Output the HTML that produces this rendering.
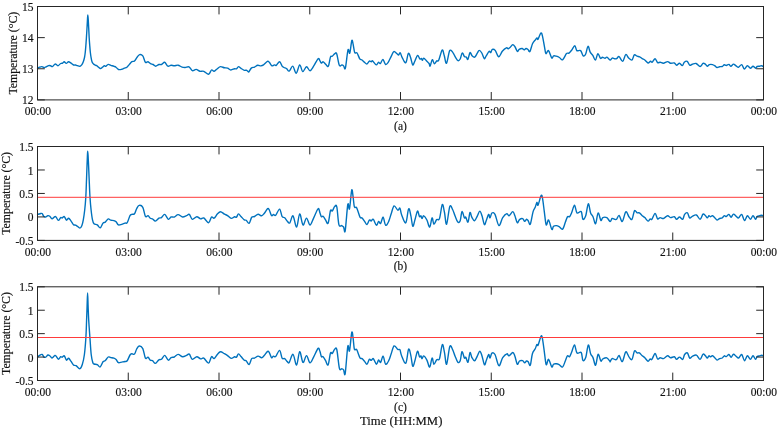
<!DOCTYPE html>
<html><head><meta charset="utf-8"><style>
html,body{margin:0;padding:0;background:#fff;}
svg{display:block;}
.t{font-family:"Liberation Serif",serif;font-size:11.5px;fill:#111;stroke:#111;stroke-width:0.15px;}
.yl{font-family:"Liberation Serif",serif;font-size:11.8px;fill:#111;stroke:#111;stroke-width:0.15px;}
.xl{font-family:"Liberation Serif",serif;font-size:12.7px;fill:#111;stroke:#111;stroke-width:0.15px;}
</style></head><body>
<div style="will-change:transform;width:779px;height:428px"><svg width="779" height="428" viewBox="0 0 779 428">
<rect width="779" height="428" fill="#fff"/>
<path d="M37.60,68.20 C37.93,68.03 38.88,67.47 39.60,67.20 C40.32,66.93 41.15,66.53 41.90,66.60 C42.65,66.67 43.42,67.53 44.10,67.60 C44.78,67.67 45.25,67.32 46.00,67.00 C46.75,66.68 47.85,65.92 48.60,65.70 C49.35,65.48 49.87,65.55 50.50,65.70 C51.13,65.85 51.65,66.87 52.40,66.60 C53.15,66.33 54.25,64.37 55.00,64.10 C55.75,63.83 56.37,64.73 56.90,65.00 C57.43,65.27 57.57,65.95 58.20,65.70 C58.83,65.45 59.95,63.93 60.70,63.50 C61.45,63.07 62.12,63.38 62.70,63.10 C63.28,62.82 63.60,61.75 64.20,61.80 C64.80,61.85 65.58,63.40 66.30,63.40 C67.02,63.40 67.72,61.85 68.50,61.80 C69.28,61.75 70.15,62.57 71.00,63.10 C71.85,63.63 72.85,64.68 73.60,65.00 C74.35,65.32 74.87,64.88 75.50,65.00 C76.13,65.12 76.65,65.48 77.40,65.70 C78.15,65.92 79.25,66.48 80.00,66.30 C80.75,66.12 81.35,65.37 81.90,64.60 C82.45,63.83 82.87,62.88 83.30,61.70 C83.73,60.52 84.17,59.12 84.50,57.50 C84.83,55.88 85.07,54.08 85.30,52.00 C85.53,49.92 85.72,47.33 85.90,45.00 C86.08,42.67 86.22,40.83 86.40,38.00 C86.58,35.17 86.82,31.17 87.00,28.00 C87.18,24.83 87.37,21.17 87.50,19.00 C87.63,16.83 87.68,15.00 87.80,15.00 C87.92,15.00 88.05,16.83 88.20,19.00 C88.35,21.17 88.53,24.83 88.70,28.00 C88.87,31.17 89.03,35.17 89.20,38.00 C89.37,40.83 89.52,42.67 89.70,45.00 C89.88,47.33 90.08,50.00 90.30,52.00 C90.52,54.00 90.72,55.38 91.00,57.00 C91.28,58.62 91.58,60.53 92.00,61.70 C92.42,62.87 93.00,63.45 93.50,64.00 C94.00,64.55 94.47,64.72 95.00,65.00 C95.53,65.28 95.83,65.12 96.70,65.70 C97.57,66.28 99.23,68.25 100.20,68.50 C101.17,68.75 101.80,67.67 102.50,67.20 C103.20,66.73 103.87,65.85 104.40,65.70 C104.93,65.55 105.07,66.52 105.70,66.30 C106.33,66.08 107.35,64.57 108.20,64.40 C109.05,64.23 109.83,64.98 110.80,65.30 C111.77,65.62 113.13,65.98 114.00,66.30 C114.87,66.62 115.25,66.67 116.00,67.20 C116.75,67.73 117.55,69.15 118.50,69.50 C119.45,69.85 120.73,69.52 121.70,69.30 C122.67,69.08 123.43,68.55 124.30,68.20 C125.17,67.85 126.05,67.83 126.90,67.20 C127.75,66.57 128.57,65.32 129.40,64.40 C130.23,63.48 131.05,62.27 131.90,61.70 C132.75,61.13 133.63,61.75 134.50,61.00 C135.37,60.25 136.25,58.27 137.10,57.20 C137.95,56.13 138.65,54.82 139.60,54.60 C140.55,54.38 141.83,54.62 142.80,55.90 C143.77,57.18 144.53,61.33 145.40,62.30 C146.27,63.27 147.15,61.48 148.00,61.70 C148.85,61.92 149.65,63.13 150.50,63.60 C151.35,64.07 152.23,64.07 153.10,64.50 C153.97,64.93 154.73,66.20 155.70,66.20 C156.67,66.20 157.93,64.78 158.90,64.50 C159.87,64.22 160.53,64.87 161.50,64.50 C162.47,64.13 163.63,62.02 164.70,62.30 C165.77,62.58 166.83,65.72 167.90,66.20 C168.97,66.68 170.03,65.27 171.10,65.20 C172.17,65.13 173.13,65.80 174.30,65.80 C175.47,65.80 176.82,64.98 178.10,65.20 C179.38,65.42 180.82,66.72 182.00,67.10 C183.18,67.48 184.03,67.55 185.20,67.50 C186.37,67.45 187.82,66.27 189.00,66.80 C190.18,67.33 191.12,70.27 192.30,70.70 C193.48,71.13 194.82,69.30 196.10,69.40 C197.38,69.50 198.72,70.98 200.00,71.30 C201.28,71.62 202.37,70.80 203.80,71.30 C205.23,71.80 207.32,74.52 208.60,74.30 C209.88,74.08 210.58,70.50 211.50,70.00 C212.42,69.50 213.13,71.52 214.10,71.30 C215.07,71.08 216.23,69.48 217.30,68.70 C218.37,67.92 219.32,66.75 220.50,66.60 C221.68,66.45 223.22,67.55 224.40,67.80 C225.58,68.05 226.53,67.73 227.60,68.10 C228.67,68.47 229.63,69.90 230.80,70.00 C231.97,70.10 233.65,68.90 234.60,68.70 C235.55,68.50 235.85,69.15 236.50,68.80 C237.15,68.45 237.75,66.67 238.50,66.60 C239.25,66.53 240.03,67.78 241.00,68.40 C241.97,69.02 243.33,69.98 244.30,70.30 C245.27,70.62 246.07,70.02 246.80,70.30 C247.53,70.58 247.95,72.37 248.70,72.00 C249.45,71.63 250.33,68.92 251.30,68.10 C252.27,67.28 253.43,67.57 254.50,67.10 C255.57,66.63 256.63,65.50 257.70,65.30 C258.77,65.10 259.93,65.97 260.90,65.90 C261.87,65.83 262.42,65.65 263.50,64.90 C264.58,64.15 266.43,61.83 267.40,61.40 C268.37,60.97 268.55,61.57 269.30,62.30 C270.05,63.03 271.05,65.37 271.90,65.80 C272.75,66.23 273.67,64.98 274.40,64.90 C275.13,64.82 275.43,65.83 276.30,65.30 C277.17,64.77 278.63,61.55 279.60,61.70 C280.57,61.85 281.37,65.23 282.10,66.20 C282.83,67.17 283.25,67.08 284.00,67.50 C284.75,67.92 285.73,68.10 286.60,68.70 C287.47,69.30 288.17,71.52 289.20,71.10 C290.23,70.68 291.63,65.85 292.80,66.20 C293.97,66.55 295.05,73.42 296.20,73.20 C297.35,72.98 298.62,65.17 299.70,64.90 C300.78,64.63 301.57,71.28 302.70,71.60 C303.83,71.92 305.28,66.95 306.50,66.80 C307.72,66.65 308.82,70.80 310.00,70.70 C311.18,70.60 312.25,68.20 313.60,66.20 C314.95,64.20 317.03,59.60 318.10,58.70 C319.17,57.80 319.47,60.07 320.00,60.80 C320.53,61.53 320.77,62.93 321.30,63.10 C321.83,63.27 322.45,61.58 323.20,61.80 C323.95,62.02 324.95,63.67 325.80,64.40 C326.65,65.13 327.52,67.43 328.30,66.20 C329.08,64.97 329.85,58.65 330.50,57.00 C331.15,55.35 331.48,56.85 332.20,56.30 C332.92,55.75 334.05,54.13 334.80,53.70 C335.55,53.27 335.95,51.77 336.70,53.70 C337.45,55.63 338.45,63.43 339.30,65.30 C340.15,67.17 341.07,64.80 341.80,64.90 C342.53,65.00 343.10,65.37 343.70,65.90 C344.30,66.43 344.68,70.77 345.40,68.10 C346.12,65.43 347.27,52.40 348.00,49.90 C348.73,47.40 349.17,54.67 349.80,53.10 C350.43,51.53 351.25,42.00 351.80,40.50 C352.35,39.00 352.62,42.10 353.10,44.10 C353.58,46.10 354.05,51.03 354.70,52.50 C355.35,53.97 356.15,51.83 357.00,52.90 C357.85,53.97 359.02,57.75 359.80,58.90 C360.58,60.05 360.95,59.27 361.70,59.80 C362.45,60.33 363.43,61.40 364.30,62.10 C365.17,62.80 366.05,64.17 366.90,64.00 C367.75,63.83 368.67,61.47 369.40,61.10 C370.13,60.73 370.77,61.85 371.30,61.80 C371.83,61.75 371.78,60.28 372.60,60.80 C373.42,61.32 375.23,64.65 376.20,64.90 C377.17,65.15 377.72,62.52 378.40,62.30 C379.08,62.08 379.55,64.07 380.30,63.60 C381.05,63.13 382.03,59.37 382.90,59.50 C383.77,59.63 384.65,63.87 385.50,64.40 C386.35,64.93 387.05,64.05 388.00,62.70 C388.95,61.35 390.23,58.15 391.20,56.30 C392.17,54.45 392.83,52.03 393.80,51.60 C394.77,51.17 396.20,53.13 397.00,53.70 C397.80,54.27 398.07,55.15 398.60,55.00 C399.13,54.85 399.60,52.37 400.20,52.80 C400.80,53.23 401.27,55.95 402.20,57.60 C403.13,59.25 404.78,63.40 405.80,62.70 C406.82,62.00 407.52,54.32 408.30,53.40 C409.08,52.48 409.77,55.28 410.50,57.20 C411.23,59.12 411.95,64.30 412.70,64.90 C413.45,65.50 414.18,62.38 415.00,60.80 C415.82,59.22 416.78,55.70 417.60,55.40 C418.42,55.10 419.27,58.50 419.90,59.00 C420.53,59.50 420.98,58.18 421.40,58.40 C421.82,58.62 422.02,60.35 422.40,60.30 C422.78,60.25 423.00,58.00 423.70,58.10 C424.40,58.20 425.70,60.00 426.60,60.90 C427.50,61.80 428.52,62.63 429.10,63.50 C429.68,64.37 429.57,66.73 430.10,66.10 C430.63,65.47 431.60,60.08 432.30,59.70 C433.00,59.32 433.55,63.60 434.30,63.80 C435.05,64.00 436.07,61.48 436.80,60.90 C437.53,60.32 437.80,62.12 438.70,60.30 C439.60,58.48 441.27,50.75 442.20,50.00 C443.13,49.25 443.58,53.58 444.30,55.80 C445.02,58.02 445.60,64.15 446.50,63.30 C447.40,62.45 448.63,52.48 449.70,50.70 C450.77,48.92 451.95,51.53 452.90,52.60 C453.85,53.67 454.55,55.75 455.40,57.10 C456.25,58.45 457.20,60.38 458.00,60.70 C458.80,61.02 459.50,60.28 460.20,59.00 C460.90,57.72 461.50,53.42 462.20,53.00 C462.90,52.58 463.72,55.82 464.40,56.50 C465.08,57.18 465.72,56.62 466.30,57.10 C466.88,57.58 467.28,60.15 467.90,59.40 C468.52,58.65 469.30,53.20 470.00,52.60 C470.70,52.00 471.32,55.05 472.10,55.80 C472.88,56.55 473.83,57.53 474.70,57.10 C475.57,56.67 476.55,54.32 477.30,53.20 C478.05,52.08 478.45,50.43 479.20,50.40 C479.95,50.37 480.95,51.63 481.80,53.00 C482.65,54.37 483.57,58.13 484.30,58.60 C485.03,59.07 485.38,57.02 486.20,55.80 C487.02,54.58 488.45,51.83 489.20,51.30 C489.95,50.77 490.18,52.92 490.70,52.60 C491.22,52.28 491.55,49.77 492.30,49.40 C493.05,49.03 494.13,49.17 495.20,50.40 C496.27,51.63 497.52,56.65 498.70,56.80 C499.88,56.95 501.02,52.78 502.30,51.30 C503.58,49.82 505.43,48.33 506.40,47.90 C507.37,47.47 507.50,48.77 508.10,48.70 C508.70,48.63 509.22,48.18 510.00,47.50 C510.78,46.82 511.95,44.68 512.80,44.60 C513.65,44.52 514.33,45.85 515.10,47.00 C515.87,48.15 516.72,51.12 517.40,51.50 C518.08,51.88 518.40,49.80 519.20,49.30 C520.00,48.80 521.38,48.42 522.20,48.50 C523.02,48.58 523.47,49.80 524.10,49.80 C524.73,49.80 525.35,48.55 526.00,48.50 C526.65,48.45 527.35,49.00 528.00,49.50 C528.65,50.00 529.15,52.47 529.90,51.50 C530.65,50.53 531.65,45.57 532.50,43.70 C533.35,41.83 534.25,41.25 535.00,40.30 C535.75,39.35 536.50,38.17 537.00,38.00 C537.50,37.83 537.37,40.12 538.00,39.30 C538.63,38.48 540.08,33.75 540.80,33.10 C541.52,32.45 541.70,33.20 542.30,35.40 C542.90,37.60 543.80,43.27 544.40,46.30 C545.00,49.33 545.22,52.88 545.90,53.60 C546.58,54.32 547.53,49.88 548.50,50.60 C549.47,51.32 550.85,57.02 551.70,57.90 C552.55,58.78 552.85,56.18 553.60,55.90 C554.35,55.62 555.23,55.93 556.20,56.20 C557.17,56.47 558.33,56.90 559.40,57.50 C560.47,58.10 561.42,60.45 562.60,59.80 C563.78,59.15 565.43,54.72 566.50,53.60 C567.57,52.48 568.15,53.67 569.00,53.10 C569.85,52.53 570.63,51.43 571.60,50.20 C572.57,48.97 573.93,45.63 574.80,45.70 C575.67,45.77 575.83,49.78 576.80,50.60 C577.77,51.42 579.53,49.72 580.60,50.60 C581.67,51.48 582.35,55.33 583.20,55.90 C584.05,56.47 584.90,55.60 585.70,54.00 C586.50,52.40 587.25,46.62 588.00,46.30 C588.75,45.98 589.40,50.60 590.20,52.10 C591.00,53.60 591.93,53.97 592.80,55.30 C593.67,56.63 594.55,60.38 595.40,60.10 C596.25,59.82 597.05,53.90 597.90,53.60 C598.75,53.30 599.75,57.70 600.50,58.30 C601.25,58.90 601.65,57.20 602.40,57.20 C603.15,57.20 604.25,58.30 605.00,58.30 C605.75,58.30 606.05,56.92 606.90,57.20 C607.75,57.48 609.23,59.85 610.10,60.00 C610.97,60.15 611.35,58.32 612.10,58.10 C612.85,57.88 613.85,58.60 614.60,58.70 C615.35,58.80 615.85,59.05 616.60,58.70 C617.35,58.35 618.08,56.17 619.10,56.60 C620.12,57.03 621.58,61.65 622.70,61.30 C623.82,60.95 624.80,55.03 625.80,54.50 C626.80,53.97 627.67,57.18 628.70,58.10 C629.73,59.02 631.07,60.53 632.00,60.00 C632.93,59.47 633.45,55.53 634.30,54.90 C635.15,54.27 636.20,55.88 637.10,56.20 C638.00,56.52 638.85,56.38 639.70,56.80 C640.55,57.22 641.35,58.17 642.20,58.70 C643.05,59.23 643.83,59.28 644.80,60.00 C645.77,60.72 647.03,62.78 648.00,63.00 C648.97,63.22 649.90,61.43 650.60,61.30 C651.30,61.17 651.45,62.63 652.20,62.20 C652.95,61.77 654.20,58.63 655.10,58.70 C656.00,58.77 656.75,62.02 657.60,62.60 C658.45,63.18 659.23,62.10 660.20,62.20 C661.17,62.30 662.17,63.30 663.40,63.20 C664.63,63.10 666.42,61.60 667.60,61.60 C668.78,61.60 669.38,62.97 670.50,63.20 C671.62,63.43 673.28,62.67 674.30,63.00 C675.32,63.33 675.73,65.17 676.60,65.20 C677.47,65.23 678.55,63.13 679.50,63.20 C680.45,63.27 681.50,65.77 682.30,65.60 C683.10,65.43 683.48,62.92 684.30,62.20 C685.12,61.48 686.30,60.80 687.20,61.30 C688.10,61.80 688.85,64.70 689.70,65.20 C690.55,65.70 691.23,64.58 692.30,64.30 C693.37,64.02 694.80,63.13 696.10,63.50 C697.40,63.87 698.95,66.52 700.10,66.50 C701.25,66.48 702.13,63.80 703.00,63.40 C703.87,63.00 704.58,63.63 705.30,64.10 C706.02,64.57 706.62,66.12 707.30,66.20 C707.98,66.28 708.53,64.87 709.40,64.60 C710.27,64.33 711.57,64.38 712.50,64.60 C713.43,64.82 714.23,65.42 715.00,65.90 C715.77,66.38 716.33,67.37 717.10,67.50 C717.87,67.63 718.75,66.87 719.60,66.70 C720.45,66.53 721.42,66.82 722.20,66.50 C722.98,66.18 723.62,64.97 724.30,64.80 C724.98,64.63 725.53,65.57 726.30,65.50 C727.07,65.43 728.13,64.28 728.90,64.40 C729.67,64.52 730.13,66.25 730.90,66.20 C731.67,66.15 732.63,64.15 733.50,64.10 C734.37,64.05 735.25,65.38 736.10,65.90 C736.95,66.42 737.67,67.42 738.60,67.20 C739.53,66.98 740.75,64.30 741.70,64.60 C742.65,64.90 743.35,68.82 744.30,69.00 C745.25,69.18 746.38,65.83 747.40,65.70 C748.42,65.57 749.47,68.12 750.40,68.20 C751.33,68.28 752.13,66.20 753.00,66.20 C753.87,66.20 754.92,68.15 755.60,68.20 C756.28,68.25 756.42,66.83 757.10,66.50 C757.78,66.17 758.93,66.33 759.70,66.20 C760.47,66.07 761.10,65.65 761.70,65.70 C762.30,65.75 763.03,66.37 763.30,66.50" fill="none" stroke="#0072bd" stroke-width="1.4" stroke-linejoin="round" stroke-linecap="round"/>
<path d="M37.50,99.9 V92.00 M37.50,6.5 V14.40 M128.25,99.9 V92.00 M128.25,6.5 V14.40 M219.00,99.9 V92.00 M219.00,6.5 V14.40 M309.75,99.9 V92.00 M309.75,6.5 V14.40 M400.50,99.9 V92.00 M400.50,6.5 V14.40 M491.25,99.9 V92.00 M491.25,6.5 V14.40 M582.00,99.9 V92.00 M582.00,6.5 V14.40 M672.75,99.9 V92.00 M672.75,6.5 V14.40 M763.50,99.9 V92.00 M763.50,6.5 V14.40 M37.5,6.50 H44.80 M763.5,6.50 H756.20 M37.5,37.63 H44.80 M763.5,37.63 H756.20 M37.5,68.77 H44.80 M763.5,68.77 H756.20 M37.5,99.90 H44.80 M763.5,99.90 H756.20" stroke="#262626" stroke-width="1" fill="none"/>
<rect x="37.5" y="6.5" width="726.0" height="93.4" fill="none" stroke="#262626" stroke-width="1"/>
<text x="33.6" y="10.5" text-anchor="end" class="t">15</text>
<text x="33.6" y="41.6" text-anchor="end" class="t">14</text>
<text x="33.6" y="72.8" text-anchor="end" class="t">13</text>
<text x="33.6" y="103.9" text-anchor="end" class="t">12</text>
<text x="37.80" y="115.2" text-anchor="middle" class="t">00:00</text>
<text x="128.55" y="115.2" text-anchor="middle" class="t">03:00</text>
<text x="219.30" y="115.2" text-anchor="middle" class="t">06:00</text>
<text x="310.05" y="115.2" text-anchor="middle" class="t">09:00</text>
<text x="400.80" y="115.2" text-anchor="middle" class="t">12:00</text>
<text x="491.55" y="115.2" text-anchor="middle" class="t">15:00</text>
<text x="582.30" y="115.2" text-anchor="middle" class="t">18:00</text>
<text x="673.05" y="115.2" text-anchor="middle" class="t">21:00</text>
<text x="763.80" y="115.2" text-anchor="middle" class="t">00:00</text>
<text x="400.5" y="129.9" text-anchor="middle" class="t">(a)</text>
<text transform="translate(16.6,53.2) rotate(-90)" text-anchor="middle" class="yl">Temperature (°C)</text>
<path d="M37.60,214.40 C38.02,214.28 39.35,213.85 40.10,213.70 C40.85,213.55 41.50,213.07 42.10,213.50 C42.70,213.93 43.07,215.72 43.70,216.30 C44.33,216.88 45.22,217.10 45.90,217.00 C46.58,216.90 47.15,215.82 47.80,215.70 C48.45,215.58 49.10,215.77 49.80,216.30 C50.50,216.83 51.15,218.85 52.00,218.90 C52.85,218.95 54.20,216.88 54.90,216.60 C55.60,216.32 55.62,216.57 56.20,217.20 C56.78,217.83 57.65,220.33 58.40,220.40 C59.15,220.47 60.07,218.00 60.70,217.60 C61.33,217.20 61.60,218.17 62.20,218.00 C62.80,217.83 63.58,216.23 64.30,216.60 C65.02,216.97 65.78,219.93 66.50,220.20 C67.22,220.47 67.87,218.10 68.60,218.20 C69.33,218.30 70.08,219.72 70.90,220.80 C71.72,221.88 72.63,223.95 73.50,224.70 C74.37,225.45 75.03,224.73 76.10,225.30 C77.17,225.87 78.93,228.07 79.90,228.10 C80.87,228.13 81.33,226.87 81.90,225.50 C82.47,224.13 82.83,222.48 83.30,219.90 C83.77,217.32 84.28,213.78 84.70,210.00 C85.12,206.22 85.50,202.20 85.80,197.20 C86.10,192.20 86.30,185.20 86.50,180.00 C86.70,174.80 86.85,170.00 87.00,166.00 C87.15,162.00 87.28,158.47 87.40,156.00 C87.52,153.53 87.58,151.20 87.70,151.20 C87.82,151.20 87.95,153.53 88.10,156.00 C88.25,158.47 88.42,162.00 88.60,166.00 C88.78,170.00 88.97,174.80 89.20,180.00 C89.43,185.20 89.68,192.20 90.00,197.20 C90.32,202.20 90.68,206.22 91.10,210.00 C91.52,213.78 92.02,217.60 92.50,219.90 C92.98,222.20 93.20,222.97 94.00,223.80 C94.80,224.63 96.27,224.22 97.30,224.90 C98.33,225.58 99.25,228.20 100.20,227.90 C101.15,227.60 102.15,224.07 103.00,223.10 C103.85,222.13 104.43,222.80 105.30,222.10 C106.17,221.40 107.30,219.22 108.20,218.90 C109.10,218.58 109.75,219.92 110.70,220.20 C111.65,220.48 113.00,220.33 113.90,220.60 C114.80,220.87 115.35,221.08 116.10,221.80 C116.85,222.52 117.47,224.48 118.40,224.90 C119.33,225.32 120.62,224.60 121.70,224.30 C122.78,224.00 123.98,223.37 124.90,223.10 C125.82,222.83 126.35,223.93 127.20,222.70 C128.05,221.47 129.22,217.08 130.00,215.70 C130.78,214.32 131.15,214.73 131.90,214.40 C132.65,214.07 133.70,214.67 134.50,213.70 C135.30,212.73 135.92,209.98 136.70,208.60 C137.48,207.22 138.18,205.62 139.20,205.40 C140.22,205.18 141.77,205.48 142.80,207.30 C143.83,209.12 144.53,214.90 145.40,216.30 C146.27,217.70 147.18,215.38 148.00,215.70 C148.82,216.02 149.55,217.67 150.30,218.20 C151.05,218.73 151.65,218.42 152.50,218.90 C153.35,219.38 154.33,221.22 155.40,221.10 C156.47,220.98 157.88,218.78 158.90,218.20 C159.92,217.62 160.53,218.23 161.50,217.60 C162.47,216.97 163.57,214.12 164.70,214.40 C165.83,214.68 167.23,218.87 168.30,219.30 C169.37,219.73 170.10,217.38 171.10,217.00 C172.10,216.62 173.13,217.40 174.30,217.00 C175.47,216.60 176.72,214.60 178.10,214.60 C179.48,214.60 181.20,216.82 182.60,217.00 C184.00,217.18 185.38,216.13 186.50,215.70 C187.62,215.27 188.33,213.80 189.30,214.40 C190.27,215.00 191.05,218.92 192.30,219.30 C193.55,219.68 195.42,216.77 196.80,216.70 C198.18,216.63 199.43,218.68 200.60,218.90 C201.77,219.12 202.47,217.37 203.80,218.00 C205.13,218.63 207.32,222.87 208.60,222.70 C209.88,222.53 210.58,217.75 211.50,217.00 C212.42,216.25 213.13,218.68 214.10,218.20 C215.07,217.72 216.23,215.17 217.30,214.10 C218.37,213.03 219.32,211.80 220.50,211.80 C221.68,211.80 223.22,213.47 224.40,214.10 C225.58,214.73 226.47,214.88 227.60,215.60 C228.73,216.32 230.03,218.20 231.20,218.40 C232.37,218.60 233.72,217.02 234.60,216.80 C235.48,216.58 235.85,217.58 236.50,217.10 C237.15,216.62 237.75,214.00 238.50,213.90 C239.25,213.80 240.03,215.50 241.00,216.50 C241.97,217.50 243.43,219.27 244.30,219.90 C245.17,220.53 245.40,219.73 246.20,220.30 C247.00,220.87 248.18,223.80 249.10,223.30 C250.02,222.80 250.80,218.43 251.70,217.30 C252.60,216.17 253.43,217.00 254.50,216.50 C255.57,216.00 256.92,214.42 258.10,214.30 C259.28,214.18 260.58,215.93 261.60,215.80 C262.62,215.67 263.20,214.68 264.20,213.50 C265.20,212.32 266.75,209.28 267.60,208.70 C268.45,208.12 268.65,208.85 269.30,210.00 C269.95,211.15 270.80,214.85 271.50,215.60 C272.20,216.35 272.80,214.57 273.50,214.50 C274.20,214.43 274.68,216.10 275.70,215.20 C276.72,214.30 278.53,208.88 279.60,209.10 C280.67,209.32 281.25,215.07 282.10,216.50 C282.95,217.93 283.83,216.92 284.70,217.70 C285.57,218.48 286.45,220.33 287.30,221.20 C288.15,222.07 288.85,223.80 289.80,222.90 C290.75,222.00 291.87,215.10 293.00,215.80 C294.13,216.50 295.48,227.42 296.60,227.10 C297.72,226.78 298.63,214.25 299.70,213.90 C300.77,213.55 301.87,224.30 303.00,225.00 C304.13,225.70 305.33,218.10 306.50,218.10 C307.67,218.10 308.82,225.00 310.00,225.00 C311.18,225.00 312.25,220.82 313.60,218.10 C314.95,215.38 317.03,209.55 318.10,208.70 C319.17,207.85 319.45,211.67 320.00,213.00 C320.55,214.33 320.88,216.17 321.40,216.70 C321.92,217.23 322.40,215.65 323.10,216.20 C323.80,216.75 324.77,218.83 325.60,220.00 C326.43,221.17 327.28,224.77 328.10,223.20 C328.92,221.63 329.80,212.65 330.50,210.60 C331.20,208.55 331.60,211.57 332.30,210.90 C333.00,210.23 333.95,207.27 334.70,206.60 C335.45,205.93 336.10,203.90 336.80,206.90 C337.50,209.90 338.08,221.48 338.90,224.60 C339.72,227.72 340.92,225.20 341.70,225.60 C342.48,226.00 343.02,226.13 343.60,227.00 C344.18,227.87 344.50,234.55 345.20,230.80 C345.90,227.05 347.08,208.17 347.80,204.50 C348.52,200.83 348.85,211.20 349.50,208.80 C350.15,206.40 351.10,192.10 351.70,190.10 C352.30,188.10 352.65,194.00 353.10,196.80 C353.55,199.60 353.80,205.07 354.40,206.90 C355.00,208.73 355.77,206.08 356.70,207.80 C357.63,209.52 359.10,215.52 360.00,217.20 C360.90,218.88 361.33,217.20 362.10,217.90 C362.87,218.60 363.78,220.28 364.60,221.40 C365.42,222.52 366.20,224.83 367.00,224.60 C367.80,224.37 368.70,220.60 369.40,220.00 C370.10,219.40 370.55,221.12 371.20,221.00 C371.85,220.88 372.43,218.60 373.30,219.30 C374.17,220.00 375.52,224.85 376.40,225.20 C377.28,225.55 377.90,221.68 378.60,221.40 C379.30,221.12 379.85,224.20 380.60,223.50 C381.35,222.80 382.27,216.92 383.10,217.20 C383.93,217.48 384.67,224.50 385.60,225.20 C386.53,225.90 387.77,223.32 388.70,221.40 C389.63,219.48 390.30,216.28 391.20,213.70 C392.10,211.12 393.00,206.48 394.10,205.90 C395.20,205.32 396.83,209.83 397.80,210.20 C398.77,210.57 399.27,207.33 399.90,208.10 C400.53,208.87 400.62,212.35 401.60,214.80 C402.58,217.25 404.63,223.80 405.80,222.80 C406.97,221.80 407.75,209.97 408.60,208.80 C409.45,207.63 410.20,212.88 410.90,215.80 C411.60,218.72 412.10,225.72 412.80,226.30 C413.50,226.88 414.32,221.83 415.10,219.30 C415.88,216.77 416.77,211.53 417.50,211.10 C418.23,210.67 418.93,215.92 419.50,216.70 C420.07,217.48 420.48,215.48 420.90,215.80 C421.32,216.12 421.53,218.60 422.00,218.60 C422.47,218.60 422.88,215.57 423.70,215.80 C424.52,216.03 425.90,218.13 426.90,220.00 C427.90,221.87 428.83,227.35 429.70,227.00 C430.57,226.65 431.40,218.37 432.10,217.90 C432.80,217.43 433.13,223.92 433.90,224.20 C434.67,224.48 435.77,220.53 436.70,219.60 C437.63,218.67 438.57,221.12 439.50,218.60 C440.43,216.08 441.47,205.52 442.30,204.50 C443.13,203.48 443.78,209.22 444.50,212.50 C445.22,215.78 445.72,225.22 446.60,224.20 C447.48,223.18 448.80,208.85 449.80,206.40 C450.80,203.95 451.73,207.93 452.60,209.50 C453.47,211.07 454.13,213.70 455.00,215.80 C455.87,217.90 456.93,221.28 457.80,222.10 C458.67,222.92 459.50,222.45 460.20,220.70 C460.90,218.95 461.30,212.07 462.00,211.60 C462.70,211.13 463.77,216.97 464.40,217.90 C465.03,218.83 465.20,216.50 465.80,217.20 C466.40,217.90 467.30,222.88 468.00,222.10 C468.70,221.32 469.37,213.32 470.00,212.50 C470.63,211.68 471.03,215.83 471.80,217.20 C472.57,218.57 473.67,220.93 474.60,220.70 C475.53,220.47 476.53,217.40 477.40,215.80 C478.27,214.20 479.03,211.10 479.80,211.10 C480.57,211.10 481.23,213.55 482.00,215.80 C482.77,218.05 483.70,223.78 484.40,224.60 C485.10,225.42 485.50,222.40 486.20,220.70 C486.90,219.00 487.97,214.87 488.60,214.40 C489.23,213.93 489.45,218.13 490.00,217.90 C490.55,217.67 491.07,213.58 491.90,213.00 C492.73,212.42 493.83,212.30 495.00,214.40 C496.17,216.50 497.62,225.07 498.90,225.60 C500.18,226.13 501.37,219.58 502.70,217.60 C504.03,215.62 505.85,214.00 506.90,213.70 C507.95,213.40 508.02,216.15 509.00,215.80 C509.98,215.45 511.82,211.60 512.80,211.60 C513.78,211.60 514.15,213.93 514.90,215.80 C515.65,217.67 516.53,222.17 517.30,222.80 C518.07,223.43 518.62,220.30 519.50,219.60 C520.38,218.90 521.73,218.30 522.60,218.60 C523.47,218.90 524.05,221.28 524.70,221.40 C525.35,221.52 525.92,219.42 526.50,219.30 C527.08,219.18 527.57,219.88 528.20,220.70 C528.83,221.52 529.48,225.72 530.30,224.20 C531.12,222.68 532.28,214.42 533.10,211.60 C533.92,208.78 534.57,208.83 535.20,207.30 C535.83,205.77 536.43,202.75 536.90,202.40 C537.37,202.05 537.30,206.32 538.00,205.20 C538.70,204.08 540.35,196.87 541.10,195.70 C541.85,194.53 541.95,195.43 542.50,198.20 C543.05,200.97 543.78,207.85 544.40,212.30 C545.02,216.75 545.50,223.62 546.20,224.90 C546.90,226.18 547.67,219.25 548.60,220.00 C549.53,220.75 550.98,228.35 551.80,229.40 C552.62,230.45 552.75,226.93 553.50,226.30 C554.25,225.67 555.37,225.55 556.30,225.60 C557.23,225.65 558.05,226.02 559.10,226.60 C560.15,227.18 561.55,229.85 562.60,229.10 C563.65,228.35 564.58,224.17 565.40,222.10 C566.22,220.03 566.80,217.60 567.50,216.70 C568.20,215.80 568.90,217.40 569.60,216.70 C570.30,216.00 570.88,214.42 571.70,212.50 C572.52,210.58 573.62,205.12 574.50,205.20 C575.38,205.28 575.88,211.93 577.00,213.00 C578.12,214.07 580.22,210.55 581.20,211.60 C582.18,212.65 582.15,218.60 582.90,219.30 C583.65,220.00 584.80,218.38 585.70,215.80 C586.60,213.22 587.48,204.27 588.30,203.80 C589.12,203.33 589.82,210.85 590.60,213.00 C591.38,215.15 592.17,214.90 593.00,216.70 C593.83,218.50 594.75,224.42 595.60,223.80 C596.45,223.18 597.22,213.57 598.10,213.00 C598.98,212.43 600.12,219.63 600.90,220.40 C601.68,221.17 601.82,218.07 602.80,217.60 C603.78,217.13 605.58,216.95 606.80,217.60 C608.02,218.25 609.22,221.35 610.10,221.50 C610.98,221.65 611.35,218.87 612.10,218.50 C612.85,218.13 613.85,219.17 614.60,219.30 C615.35,219.43 615.85,219.95 616.60,219.30 C617.35,218.65 618.15,215.03 619.10,215.40 C620.05,215.77 621.18,222.10 622.30,221.50 C623.42,220.90 624.67,212.55 625.80,211.80 C626.93,211.05 628.07,215.75 629.10,217.00 C630.13,218.25 631.10,220.33 632.00,219.30 C632.90,218.27 633.65,211.88 634.50,210.80 C635.35,209.72 636.28,212.47 637.10,212.80 C637.92,213.13 638.58,212.37 639.40,212.80 C640.22,213.23 641.10,214.60 642.00,215.40 C642.90,216.20 643.80,216.65 644.80,217.60 C645.80,218.55 647.10,220.88 648.00,221.10 C648.90,221.32 649.55,219.20 650.20,218.90 C650.85,218.60 651.08,220.22 651.90,219.30 C652.72,218.38 654.15,213.47 655.10,213.40 C656.05,213.33 656.75,218.20 657.60,218.90 C658.45,219.60 659.23,217.67 660.20,217.60 C661.17,217.53 662.17,218.82 663.40,218.50 C664.63,218.18 666.42,215.85 667.60,215.70 C668.78,215.55 669.38,217.43 670.50,217.60 C671.62,217.77 673.28,216.42 674.30,216.70 C675.32,216.98 675.73,219.25 676.60,219.30 C677.47,219.35 678.48,217.00 679.50,217.00 C680.52,217.00 681.85,219.73 682.70,219.30 C683.55,218.87 683.82,215.48 684.60,214.40 C685.38,213.32 686.55,212.20 687.40,212.80 C688.25,213.40 688.88,217.42 689.70,218.00 C690.52,218.58 691.18,216.80 692.30,216.30 C693.42,215.80 695.10,214.50 696.40,215.00 C697.70,215.50 699.00,219.45 700.10,219.30 C701.20,219.15 702.13,214.73 703.00,214.10 C703.87,213.47 704.58,214.87 705.30,215.50 C706.02,216.13 706.70,217.87 707.30,217.90 C707.90,217.93 708.38,215.90 708.90,215.70 C709.42,215.50 709.80,216.70 710.40,216.70 C711.00,216.70 711.73,215.50 712.50,215.70 C713.27,215.90 714.23,217.18 715.00,217.90 C715.77,218.62 716.33,219.90 717.10,220.00 C717.87,220.10 718.75,218.85 719.60,218.50 C720.45,218.15 721.42,218.37 722.20,217.90 C722.98,217.43 723.62,215.93 724.30,215.70 C724.98,215.47 725.53,216.72 726.30,216.50 C727.07,216.28 728.10,214.28 728.90,214.40 C729.70,214.52 730.33,217.25 731.10,217.20 C731.87,217.15 732.67,214.27 733.50,214.10 C734.33,213.93 735.25,215.57 736.10,216.20 C736.95,216.83 737.67,218.20 738.60,217.90 C739.53,217.60 740.72,213.95 741.70,214.40 C742.68,214.85 743.55,220.38 744.50,220.60 C745.45,220.82 746.42,215.92 747.40,215.70 C748.38,215.48 749.47,219.30 750.40,219.30 C751.33,219.30 752.13,215.70 753.00,215.70 C753.87,215.70 754.92,219.17 755.60,219.30 C756.28,219.43 756.42,217.10 757.10,216.50 C757.78,215.90 758.93,215.92 759.70,215.70 C760.47,215.48 761.10,215.20 761.70,215.20 C762.30,215.20 763.03,215.62 763.30,215.70" fill="none" stroke="#0072bd" stroke-width="1.4" stroke-linejoin="round" stroke-linecap="round"/>
<line x1="37.5" y1="197.3" x2="763.5" y2="197.3" stroke="#ff3b3b" stroke-width="1"/>
<path d="M37.50,240.4 V232.50 M37.50,146.5 V154.40 M128.25,240.4 V232.50 M128.25,146.5 V154.40 M219.00,240.4 V232.50 M219.00,146.5 V154.40 M309.75,240.4 V232.50 M309.75,146.5 V154.40 M400.50,240.4 V232.50 M400.50,146.5 V154.40 M491.25,240.4 V232.50 M491.25,146.5 V154.40 M582.00,240.4 V232.50 M582.00,146.5 V154.40 M672.75,240.4 V232.50 M672.75,146.5 V154.40 M763.50,240.4 V232.50 M763.50,146.5 V154.40 M37.5,146.50 H44.80 M763.5,146.50 H756.20 M37.5,169.97 H44.80 M763.5,169.97 H756.20 M37.5,193.45 H44.80 M763.5,193.45 H756.20 M37.5,216.93 H44.80 M763.5,216.93 H756.20 M37.5,240.40 H44.80 M763.5,240.40 H756.20" stroke="#262626" stroke-width="1" fill="none"/>
<rect x="37.5" y="146.5" width="726.0" height="93.9" fill="none" stroke="#262626" stroke-width="1"/>
<text x="33.6" y="151.0" text-anchor="end" class="t">1.5</text>
<text x="33.6" y="174.5" text-anchor="end" class="t">1</text>
<text x="33.6" y="197.9" text-anchor="end" class="t">0.5</text>
<text x="33.6" y="221.4" text-anchor="end" class="t">0</text>
<text x="33.6" y="244.9" text-anchor="end" class="t">-0.5</text>
<text x="37.80" y="255.7" text-anchor="middle" class="t">00:00</text>
<text x="128.55" y="255.7" text-anchor="middle" class="t">03:00</text>
<text x="219.30" y="255.7" text-anchor="middle" class="t">06:00</text>
<text x="310.05" y="255.7" text-anchor="middle" class="t">09:00</text>
<text x="400.80" y="255.7" text-anchor="middle" class="t">12:00</text>
<text x="491.55" y="255.7" text-anchor="middle" class="t">15:00</text>
<text x="582.30" y="255.7" text-anchor="middle" class="t">18:00</text>
<text x="673.05" y="255.7" text-anchor="middle" class="t">21:00</text>
<text x="763.80" y="255.7" text-anchor="middle" class="t">00:00</text>
<text x="400.5" y="270.4" text-anchor="middle" class="t">(b)</text>
<text transform="translate(9.8,193.4) rotate(-90)" text-anchor="middle" class="yl">Temperature (°C)</text>
<path d="M37.60,357.00 C37.92,356.73 38.75,355.83 39.50,355.40 C40.25,354.97 41.35,354.10 42.10,354.40 C42.85,354.70 43.37,356.77 44.00,357.20 C44.63,357.63 45.27,357.37 45.90,357.00 C46.53,356.63 47.15,355.22 47.80,355.00 C48.45,354.78 49.10,355.20 49.80,355.70 C50.50,356.20 51.15,358.05 52.00,358.00 C52.85,357.95 54.20,355.68 54.90,355.40 C55.60,355.12 55.62,355.65 56.20,356.30 C56.78,356.95 57.65,359.23 58.40,359.30 C59.15,359.37 60.07,357.05 60.70,356.70 C61.33,356.35 61.60,357.33 62.20,357.20 C62.80,357.07 63.58,355.40 64.30,355.90 C65.02,356.40 65.78,359.82 66.50,360.20 C67.22,360.58 67.87,358.05 68.60,358.20 C69.33,358.35 70.08,359.98 70.90,361.10 C71.72,362.22 72.63,364.13 73.50,364.90 C74.37,365.67 75.05,365.05 76.10,365.70 C77.15,366.35 78.77,369.00 79.80,368.80 C80.83,368.60 81.53,366.88 82.30,364.50 C83.07,362.12 83.80,359.05 84.40,354.50 C85.00,349.95 85.53,342.95 85.90,337.20 C86.27,331.45 86.40,325.20 86.60,320.00 C86.80,314.80 86.93,310.50 87.10,306.00 C87.27,301.50 87.43,293.00 87.60,293.00 C87.77,293.00 87.92,301.50 88.10,306.00 C88.28,310.50 88.40,314.80 88.70,320.00 C89.00,325.20 89.48,331.45 89.90,337.20 C90.32,342.95 90.72,350.28 91.20,354.50 C91.68,358.72 92.33,360.92 92.80,362.50 C93.27,364.08 93.25,363.63 94.00,364.00 C94.75,364.37 96.27,364.20 97.30,364.70 C98.33,365.20 99.25,367.48 100.20,367.00 C101.15,366.52 102.15,362.87 103.00,361.80 C103.85,360.73 104.43,361.40 105.30,360.60 C106.17,359.80 107.30,357.50 108.20,357.00 C109.10,356.50 109.75,357.40 110.70,357.60 C111.65,357.80 113.00,357.88 113.90,358.20 C114.80,358.52 115.35,358.75 116.10,359.50 C116.85,360.25 117.47,362.27 118.40,362.70 C119.33,363.13 120.62,362.30 121.70,362.10 C122.78,361.90 123.98,361.72 124.90,361.50 C125.82,361.28 126.35,361.88 127.20,360.80 C128.05,359.72 129.22,356.18 130.00,355.00 C130.78,353.82 131.15,353.85 131.90,353.70 C132.65,353.55 133.70,354.88 134.50,354.10 C135.30,353.32 135.92,350.35 136.70,349.00 C137.48,347.65 138.18,346.07 139.20,346.00 C140.22,345.93 141.77,346.57 142.80,348.60 C143.83,350.63 144.53,356.77 145.40,358.20 C146.27,359.63 147.18,356.87 148.00,357.20 C148.82,357.53 149.55,359.63 150.30,360.20 C151.05,360.77 151.65,360.07 152.50,360.60 C153.35,361.13 154.33,363.53 155.40,363.40 C156.47,363.27 157.88,360.48 158.90,359.80 C159.92,359.12 160.53,360.03 161.50,359.30 C162.47,358.57 163.57,355.25 164.70,355.40 C165.83,355.55 167.23,359.83 168.30,360.20 C169.37,360.57 170.10,358.13 171.10,357.60 C172.10,357.07 173.13,357.53 174.30,357.00 C175.47,356.47 176.72,354.45 178.10,354.40 C179.48,354.35 181.20,356.53 182.60,356.70 C184.00,356.87 185.38,355.83 186.50,355.40 C187.62,354.97 188.33,353.45 189.30,354.10 C190.27,354.75 191.05,358.87 192.30,359.30 C193.55,359.73 195.42,356.77 196.80,356.70 C198.18,356.63 199.43,358.65 200.60,358.90 C201.77,359.15 202.47,357.50 203.80,358.20 C205.13,358.90 207.32,363.35 208.60,363.10 C209.88,362.85 210.58,357.47 211.50,356.70 C212.42,355.93 213.13,358.88 214.10,358.50 C215.07,358.12 216.23,355.52 217.30,354.40 C218.37,353.28 219.32,351.92 220.50,351.80 C221.68,351.68 223.22,353.07 224.40,353.70 C225.58,354.33 226.47,354.82 227.60,355.60 C228.73,356.38 230.03,358.20 231.20,358.40 C232.37,358.60 233.72,357.02 234.60,356.80 C235.48,356.58 235.85,357.58 236.50,357.10 C237.15,356.62 237.75,354.00 238.50,353.90 C239.25,353.80 240.03,355.43 241.00,356.50 C241.97,357.57 243.43,359.60 244.30,360.30 C245.17,361.00 245.40,360.00 246.20,360.70 C247.00,361.40 248.18,364.85 249.10,364.50 C250.02,364.15 250.80,359.67 251.70,358.60 C252.60,357.53 253.43,358.52 254.50,358.10 C255.57,357.68 256.92,356.17 258.10,356.10 C259.28,356.03 260.58,357.78 261.60,357.70 C262.62,357.62 263.20,356.67 264.20,355.60 C265.20,354.53 266.75,351.80 267.60,351.30 C268.45,350.80 268.65,351.53 269.30,352.60 C269.95,353.67 270.80,357.12 271.50,357.70 C272.20,358.28 272.80,356.30 273.50,356.10 C274.20,355.90 274.68,357.45 275.70,356.50 C276.72,355.55 278.53,350.13 279.60,350.40 C280.67,350.67 281.25,356.73 282.10,358.10 C282.95,359.47 283.83,358.02 284.70,358.60 C285.57,359.18 286.55,360.95 287.30,361.60 C288.05,362.25 288.25,363.72 289.20,362.50 C290.15,361.28 291.77,353.88 293.00,354.30 C294.23,354.72 295.48,365.43 296.60,365.00 C297.72,364.57 298.63,352.12 299.70,351.70 C300.77,351.28 301.87,361.85 303.00,362.50 C304.13,363.15 305.33,355.53 306.50,355.60 C307.67,355.67 308.82,362.65 310.00,362.90 C311.18,363.15 312.25,359.52 313.60,357.10 C314.95,354.68 317.03,349.32 318.10,348.40 C319.17,347.48 319.45,350.22 320.00,351.60 C320.55,352.98 320.88,355.85 321.40,356.70 C321.92,357.55 322.40,356.03 323.10,356.70 C323.80,357.37 324.77,359.33 325.60,360.70 C326.43,362.07 327.28,366.18 328.10,364.90 C328.92,363.62 329.80,354.92 330.50,353.00 C331.20,351.08 331.60,354.03 332.30,353.40 C333.00,352.77 333.95,349.85 334.70,349.20 C335.45,348.55 336.02,346.30 336.80,349.50 C337.58,352.70 338.58,365.18 339.40,368.40 C340.22,371.62 341.00,368.57 341.70,368.80 C342.40,369.03 343.02,369.00 343.60,369.80 C344.18,370.60 344.50,377.50 345.20,373.60 C345.90,369.70 347.08,350.18 347.80,346.40 C348.52,342.62 348.83,353.25 349.50,350.90 C350.17,348.55 351.18,334.30 351.80,332.30 C352.42,330.30 352.77,336.08 353.20,338.90 C353.63,341.72 353.82,347.40 354.40,349.20 C354.98,351.00 355.77,348.25 356.70,349.70 C357.63,351.15 359.10,356.42 360.00,357.90 C360.90,359.38 361.33,358.02 362.10,358.60 C362.87,359.18 363.78,360.47 364.60,361.40 C365.42,362.33 366.20,364.55 367.00,364.20 C367.80,363.85 368.70,359.93 369.40,359.30 C370.10,358.67 370.55,360.52 371.20,360.40 C371.85,360.28 372.43,357.97 373.30,358.60 C374.17,359.23 375.52,363.97 376.40,364.20 C377.28,364.43 377.90,360.30 378.60,360.00 C379.30,359.70 379.85,363.03 380.60,362.40 C381.35,361.77 382.27,355.90 383.10,356.20 C383.93,356.50 384.67,363.45 385.60,364.20 C386.53,364.95 387.77,362.45 388.70,360.70 C389.63,358.95 390.30,356.17 391.20,353.70 C392.10,351.23 393.00,346.60 394.10,345.90 C395.20,345.20 396.83,348.87 397.80,349.50 C398.77,350.13 399.27,348.65 399.90,349.70 C400.53,350.75 400.62,353.55 401.60,355.80 C402.58,358.05 404.63,364.30 405.80,363.20 C406.97,362.10 407.75,350.43 408.60,349.20 C409.45,347.97 410.20,352.95 410.90,355.80 C411.60,358.65 412.10,365.60 412.80,366.30 C413.50,367.00 414.32,362.52 415.10,360.00 C415.88,357.48 416.77,351.73 417.50,351.20 C418.23,350.67 418.93,356.02 419.50,356.80 C420.07,357.58 420.48,355.58 420.90,355.90 C421.32,356.22 421.53,358.70 422.00,358.70 C422.47,358.70 422.88,355.67 423.70,355.90 C424.52,356.13 425.90,358.23 426.90,360.10 C427.90,361.97 428.83,367.45 429.70,367.10 C430.57,366.75 431.40,358.47 432.10,358.00 C432.80,357.53 433.13,364.02 433.90,364.30 C434.67,364.58 435.77,360.63 436.70,359.70 C437.63,358.77 438.57,361.22 439.50,358.70 C440.43,356.18 441.47,345.62 442.30,344.60 C443.13,343.58 443.78,349.32 444.50,352.60 C445.22,355.88 445.72,365.32 446.60,364.30 C447.48,363.28 448.80,348.95 449.80,346.50 C450.80,344.05 451.73,348.03 452.60,349.60 C453.47,351.17 454.13,353.80 455.00,355.90 C455.87,358.00 456.93,361.38 457.80,362.20 C458.67,363.02 459.50,362.55 460.20,360.80 C460.90,359.05 461.30,352.17 462.00,351.70 C462.70,351.23 463.77,357.07 464.40,358.00 C465.03,358.93 465.20,356.60 465.80,357.30 C466.40,358.00 467.30,362.98 468.00,362.20 C468.70,361.42 469.37,353.42 470.00,352.60 C470.63,351.78 471.03,355.93 471.80,357.30 C472.57,358.67 473.67,361.03 474.60,360.80 C475.53,360.57 476.53,357.50 477.40,355.90 C478.27,354.30 479.03,351.20 479.80,351.20 C480.57,351.20 481.23,353.65 482.00,355.90 C482.77,358.15 483.70,363.88 484.40,364.70 C485.10,365.52 485.50,362.50 486.20,360.80 C486.90,359.10 487.97,354.97 488.60,354.50 C489.23,354.03 489.45,358.23 490.00,358.00 C490.55,357.77 491.07,353.68 491.90,353.10 C492.73,352.52 493.83,352.40 495.00,354.50 C496.17,356.60 497.62,365.17 498.90,365.70 C500.18,366.23 501.37,359.68 502.70,357.70 C504.03,355.72 505.85,354.10 506.90,353.80 C507.95,353.50 508.02,356.12 509.00,355.90 C509.98,355.68 511.82,352.45 512.80,352.50 C513.78,352.55 514.15,354.25 514.90,356.20 C515.65,358.15 516.53,363.40 517.30,364.20 C518.07,365.00 518.62,361.58 519.50,361.00 C520.38,360.42 521.73,360.40 522.60,360.70 C523.47,361.00 524.05,362.75 524.70,362.80 C525.35,362.85 525.92,361.17 526.50,361.00 C527.08,360.83 527.57,361.10 528.20,361.80 C528.83,362.50 529.60,366.55 530.30,365.20 C531.00,363.85 531.58,356.43 532.40,353.70 C533.22,350.97 534.45,350.33 535.20,348.80 C535.95,347.27 536.42,345.10 536.90,344.50 C537.38,343.90 537.40,346.60 538.10,345.20 C538.80,343.80 540.37,337.15 541.10,336.10 C541.83,335.05 541.95,336.20 542.50,338.90 C543.05,341.60 543.78,348.02 544.40,352.30 C545.02,356.58 545.50,363.43 546.20,364.60 C546.90,365.77 547.67,358.90 548.60,359.30 C549.53,359.70 550.98,366.18 551.80,367.00 C552.62,367.82 552.75,364.73 553.50,364.20 C554.25,363.67 555.37,363.73 556.30,363.80 C557.23,363.87 558.05,364.07 559.10,364.60 C560.15,365.13 561.55,367.65 562.60,367.00 C563.65,366.35 564.58,362.57 565.40,360.70 C566.22,358.83 566.80,356.47 567.50,355.80 C568.20,355.13 568.90,357.33 569.60,356.70 C570.30,356.07 570.88,353.95 571.70,352.00 C572.52,350.05 573.62,344.83 574.50,345.00 C575.38,345.17 575.88,351.75 577.00,353.00 C578.12,354.25 580.22,351.27 581.20,352.50 C582.18,353.73 582.15,359.55 582.90,360.40 C583.65,361.25 584.80,360.17 585.70,357.60 C586.60,355.03 587.48,345.65 588.30,345.00 C589.12,344.35 589.82,351.60 590.60,353.70 C591.38,355.80 592.17,355.68 593.00,357.60 C593.83,359.52 594.75,365.73 595.60,365.20 C596.45,364.67 597.22,355.10 598.10,354.40 C598.98,353.70 600.12,360.23 600.90,361.00 C601.68,361.77 601.82,359.52 602.80,359.00 C603.78,358.48 605.60,357.50 606.80,357.90 C608.00,358.30 609.45,360.78 610.00,361.40 C610.55,362.02 609.75,362.07 610.10,361.60 C610.45,361.13 611.35,358.97 612.10,358.60 C612.85,358.23 613.85,359.27 614.60,359.40 C615.35,359.53 615.85,360.05 616.60,359.40 C617.35,358.75 618.15,355.13 619.10,355.50 C620.05,355.87 621.18,362.20 622.30,361.60 C623.42,361.00 624.67,352.65 625.80,351.90 C626.93,351.15 628.07,355.85 629.10,357.10 C630.13,358.35 631.10,360.43 632.00,359.40 C632.90,358.37 633.65,351.98 634.50,350.90 C635.35,349.82 636.28,352.57 637.10,352.90 C637.92,353.23 638.58,352.47 639.40,352.90 C640.22,353.33 641.10,354.70 642.00,355.50 C642.90,356.30 643.80,356.75 644.80,357.70 C645.80,358.65 647.10,360.98 648.00,361.20 C648.90,361.42 649.55,359.30 650.20,359.00 C650.85,358.70 651.08,360.32 651.90,359.40 C652.72,358.48 654.15,353.57 655.10,353.50 C656.05,353.43 656.75,358.30 657.60,359.00 C658.45,359.70 659.23,357.77 660.20,357.70 C661.17,357.63 662.17,358.92 663.40,358.60 C664.63,358.28 666.42,355.95 667.60,355.80 C668.78,355.65 669.38,357.53 670.50,357.70 C671.62,357.87 673.28,356.52 674.30,356.80 C675.32,357.08 675.73,359.35 676.60,359.40 C677.47,359.45 678.48,357.10 679.50,357.10 C680.52,357.10 681.85,359.83 682.70,359.40 C683.55,358.97 683.82,355.58 684.60,354.50 C685.38,353.42 686.55,352.30 687.40,352.90 C688.25,353.50 688.88,357.52 689.70,358.10 C690.52,358.68 691.18,356.90 692.30,356.40 C693.42,355.90 695.10,354.60 696.40,355.10 C697.70,355.60 699.00,359.55 700.10,359.40 C701.20,359.25 702.13,354.83 703.00,354.20 C703.87,353.57 704.58,354.97 705.30,355.60 C706.02,356.23 706.70,357.97 707.30,358.00 C707.90,358.03 708.38,356.00 708.90,355.80 C709.42,355.60 709.80,356.80 710.40,356.80 C711.00,356.80 711.73,355.60 712.50,355.80 C713.27,356.00 714.23,357.28 715.00,358.00 C715.77,358.72 716.33,360.00 717.10,360.10 C717.87,360.20 718.75,358.95 719.60,358.60 C720.45,358.25 721.42,358.47 722.20,358.00 C722.98,357.53 723.62,356.03 724.30,355.80 C724.98,355.57 725.53,356.82 726.30,356.60 C727.07,356.38 728.10,354.38 728.90,354.50 C729.70,354.62 730.33,357.35 731.10,357.30 C731.87,357.25 732.67,354.37 733.50,354.20 C734.33,354.03 735.25,355.67 736.10,356.30 C736.95,356.93 737.67,358.30 738.60,358.00 C739.53,357.70 740.72,354.05 741.70,354.50 C742.68,354.95 743.55,360.48 744.50,360.70 C745.45,360.92 746.42,356.02 747.40,355.80 C748.38,355.58 749.47,359.40 750.40,359.40 C751.33,359.40 752.13,355.80 753.00,355.80 C753.87,355.80 754.92,359.27 755.60,359.40 C756.28,359.53 756.42,357.20 757.10,356.60 C757.78,356.00 758.93,356.02 759.70,355.80 C760.47,355.58 761.10,355.30 761.70,355.30 C762.30,355.30 763.03,355.72 763.30,355.80" fill="none" stroke="#0072bd" stroke-width="1.4" stroke-linejoin="round" stroke-linecap="round"/>
<line x1="37.5" y1="337.5" x2="763.5" y2="337.5" stroke="#ff3b3b" stroke-width="1"/>
<path d="M37.50,380.5 V372.60 M37.50,286.8 V294.70 M128.25,380.5 V372.60 M128.25,286.8 V294.70 M219.00,380.5 V372.60 M219.00,286.8 V294.70 M309.75,380.5 V372.60 M309.75,286.8 V294.70 M400.50,380.5 V372.60 M400.50,286.8 V294.70 M491.25,380.5 V372.60 M491.25,286.8 V294.70 M582.00,380.5 V372.60 M582.00,286.8 V294.70 M672.75,380.5 V372.60 M672.75,286.8 V294.70 M763.50,380.5 V372.60 M763.50,286.8 V294.70 M37.5,286.80 H44.80 M763.5,286.80 H756.20 M37.5,310.23 H44.80 M763.5,310.23 H756.20 M37.5,333.65 H44.80 M763.5,333.65 H756.20 M37.5,357.07 H44.80 M763.5,357.07 H756.20 M37.5,380.50 H44.80 M763.5,380.50 H756.20" stroke="#262626" stroke-width="1" fill="none"/>
<rect x="37.5" y="286.8" width="726.0" height="93.69999999999999" fill="none" stroke="#262626" stroke-width="1"/>
<text x="33.6" y="291.3" text-anchor="end" class="t">1.5</text>
<text x="33.6" y="314.7" text-anchor="end" class="t">1</text>
<text x="33.6" y="338.1" text-anchor="end" class="t">0.5</text>
<text x="33.6" y="361.6" text-anchor="end" class="t">0</text>
<text x="33.6" y="385.0" text-anchor="end" class="t">-0.5</text>
<text x="37.80" y="395.8" text-anchor="middle" class="t">00:00</text>
<text x="128.55" y="395.8" text-anchor="middle" class="t">03:00</text>
<text x="219.30" y="395.8" text-anchor="middle" class="t">06:00</text>
<text x="310.05" y="395.8" text-anchor="middle" class="t">09:00</text>
<text x="400.80" y="395.8" text-anchor="middle" class="t">12:00</text>
<text x="491.55" y="395.8" text-anchor="middle" class="t">15:00</text>
<text x="582.30" y="395.8" text-anchor="middle" class="t">18:00</text>
<text x="673.05" y="395.8" text-anchor="middle" class="t">21:00</text>
<text x="763.80" y="395.8" text-anchor="middle" class="t">00:00</text>
<text x="400.5" y="410.5" text-anchor="middle" class="t">(c)</text>
<text transform="translate(9.8,333.6) rotate(-90)" text-anchor="middle" class="yl">Temperature (°C)</text>
<text x="401.2" y="425" text-anchor="middle" class="xl">Time (HH:MM)</text>
</svg></div>
</body></html>
